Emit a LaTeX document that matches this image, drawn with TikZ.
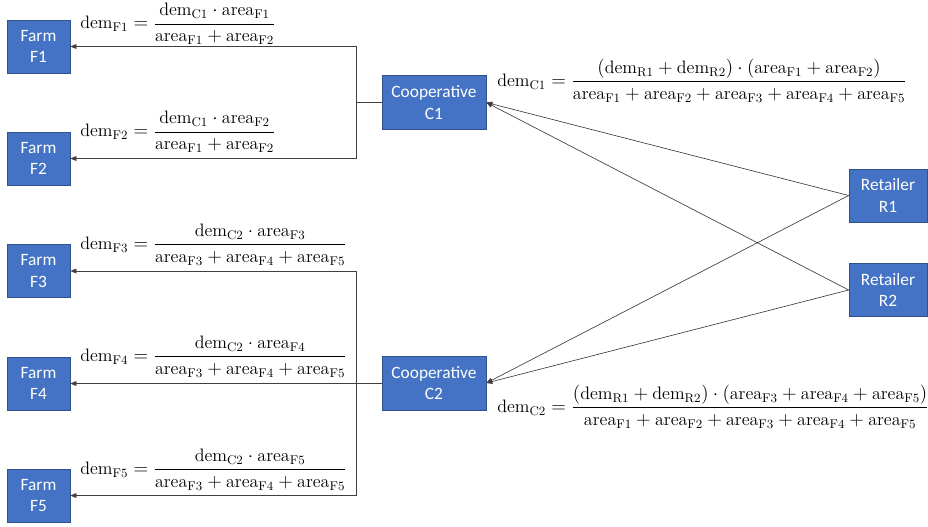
\documentclass[tikz,border=0pt]{standalone}
\usepackage{amsmath}
\usepackage{fontspec}
\newfontfamily\boxfont{Carlito}
\usepackage{tikz}
\usetikzlibrary{arrows.meta, positioning}
\definecolor{boxblue}{RGB}{68,114,196}
\definecolor{boxline}{RGB}{47,82,143}
\newcommand{\demv}[1]{\mathrm{dem}_{\mathrm{#1}}}
\newcommand{\areav}[1]{\mathrm{area}_{\mathrm{#1}}}
\tikzset{
	unitbox/.style={draw=boxline, line width=0.5pt, fill=boxblue, text=white, align=center, inner sep=0pt, font=\boxfont\fontsize{13}{16}\selectfont},
	farmbox/.style={unitbox, minimum width=47.25pt, minimum height=39.75pt},
	coopbox/.style={unitbox, minimum width=78pt, minimum height=40.5pt},
	retailbox/.style={unitbox, minimum width=58.5pt, minimum height=39.75pt},
	eqn/.style={anchor=west, inner sep=0pt, font=\fontsize{13.5}{16}\selectfont},
	flow/.style={draw=black!75, line width=0.5pt, -{Triangle[length=4.5pt,width=3.6pt]}}
}

\begin{document}
\begin{tikzpicture}[x=0.75pt,y=0.75pt,yscale=-1,xscale=1]
	\useasboundingbox (0,0) rectangle (928,526);

	%Farms
	\node [farmbox] (f1) at (38.5,46.5) {Farm\\F1};
	\node [farmbox] (f2) at (38.5,158.5) {Farm\\F2};
	\node [farmbox] (f3) at (38.5,271) {Farm\\F3};
	\node [farmbox] (f4) at (38.5,383.5) {Farm\\F4};
	\node [farmbox] (f5) at (38.5,495.5) {Farm\\F5};

	%Cooperatives
	\node [coopbox] (c1) at (434,102.5) {Cooperative\\C1};
	\node [coopbox] (c2) at (434,383) {Cooperative\\C2};

	%Retailers
	\node [retailbox] (r1) at (888,195.5) {Retailer\\R1};
	\node [retailbox] (r2) at (888,290) {Retailer\\R2};

	%Retailer to cooperative
	\draw [flow] (r1.west) -- (c1.east);
	\draw [flow] (r2.west) -- (c1.east);
	\draw [flow] (r1.west) -- (c2.east);
	\draw [flow] (r2.west) -- (c2.east);

	%Cooperative to farm
	\draw [flow] (c1.west) -- ++(-25,0) |- (f1.east);
	\draw [flow] (c1.west) -- ++(-25,0) |- (f2.east);
	\draw [flow] (c2.west) -- ++(-25,0) |- (f3.east);
	\draw [flow] (c2.west) -- ++(-25,0) |- (f4.east);
	\draw [flow] (c2.west) -- ++(-25,0) |- (f5.east);

	% Text Node
	\node [eqn] (eqf1) at (80,24) {$\demv{F1} = \dfrac{\demv{C1}\cdot\areav{F1}}{\areav{F1}+\areav{F2}}$};
	% Text Node
	\node [eqn] (eqf2) at (80,132) {$\demv{F2} = \dfrac{\demv{C1}\cdot\areav{F2}}{\areav{F1}+\areav{F2}}$};
	% Text Node
	\node [eqn] (eqf3) at (80,245) {$\demv{F3} = \dfrac{\demv{C2}\cdot\areav{F3}}{\areav{F3}+\areav{F4}+\areav{F5}}$};
	% Text Node
	\node [eqn] (eqf4) at (80,357) {$\demv{F4} = \dfrac{\demv{C2}\cdot\areav{F4}}{\areav{F3}+\areav{F4}+\areav{F5}}$};
	% Text Node
	\node [eqn] (eqf5) at (80,470) {$\demv{F5} = \dfrac{\demv{C2}\cdot\areav{F5}}{\areav{F3}+\areav{F4}+\areav{F5}}$};
	% Text Node
	\node [eqn] (eqc1) at (497,81) {$\demv{C1} = \dfrac{(\demv{R1}+\demv{R2})\cdot(\areav{F1}+\areav{F2})}{\areav{F1}+\areav{F2}+\areav{F3}+\areav{F4}+\areav{F5}}$};
	% Text Node
	\node [eqn] (eqc2) at (497,407) {$\demv{C2} = \dfrac{(\demv{R1}+\demv{R2})\cdot(\areav{F3}+\areav{F4}+\areav{F5})}{\areav{F1}+\areav{F2}+\areav{F3}+\areav{F4}+\areav{F5}}$};

\end{tikzpicture}
\end{document}
